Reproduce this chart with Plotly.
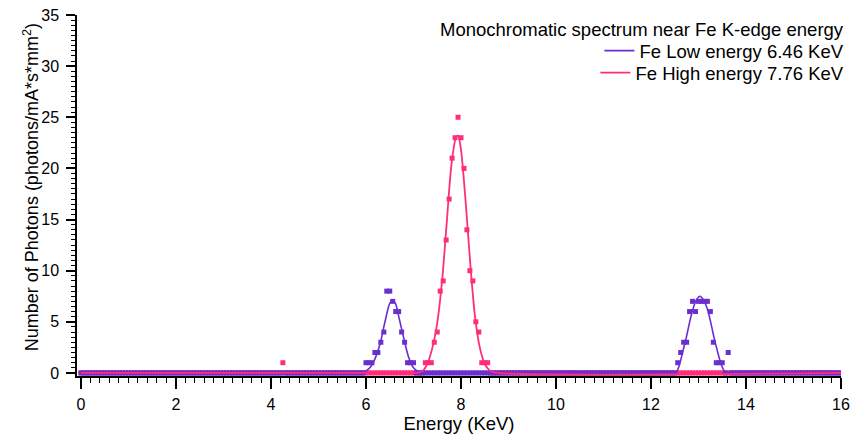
import plotly.graph_objects as go

# ---------------- data ----------------
BIN_WIDTH = 0.0625
N_BINS = 257
energies = [round(i * BIN_WIDTH, 4) for i in range(N_BINS)]  # 0 .. 16 KeV

# Fe low energy (6.46 KeV) measured spectrum, non-zero bins
low_peak_energy = [6.0, 6.0625, 6.125, 6.1875, 6.25, 6.3125, 6.375, 6.4375, 6.5, 6.5625,
                   6.625, 6.6875, 6.75, 6.8125, 6.875, 6.9375, 7.0,
                   12.5625, 12.625, 12.6875, 12.75, 12.8125, 12.875, 12.9375, 13.0, 13.0625,
                   13.125, 13.1875, 13.25, 13.3125, 13.375, 13.4375, 13.5, 13.625]
low_peak_counts = [1, 1, 1, 2, 2, 3, 4, 8, 8, 7,
                   6, 6, 4, 3, 1, 1, 1,
                   1, 2, 3, 3, 6, 7, 6, 7, 7,
                   7, 7, 6, 3, 1, 1, 1, 2]

# Fe high energy (7.76 KeV) measured spectrum, non-zero bins
high_peak_energy = [4.25, 7.25, 7.3125, 7.375, 7.4375, 7.5, 7.5625, 7.625, 7.6875, 7.75,
                    7.8125, 7.875, 7.9375, 8.0, 8.0625, 8.125, 8.1875, 8.25, 8.3125, 8.375,
                    8.4375, 8.5, 8.5625]
high_peak_counts = [1, 1, 1, 1, 3, 4, 8, 9, 13, 17,
                    21, 23, 25, 23, 20, 14, 10, 9, 5, 4,
                    1, 1, 1]

# fitted curves
low_fit_energy = [0, 5.8, 5.9, 6.0, 6.1, 6.2, 6.3, 6.4, 6.5, 6.56, 6.62, 6.7, 6.8, 6.9, 7.0, 7.1, 7.2,
                  12.4, 12.5, 12.54, 12.6, 12.67, 12.74, 12.81, 12.88, 12.95, 13.03, 13.11, 13.19,
                  13.26, 13.33, 13.4, 13.47, 13.54, 13.6, 13.7, 16]
low_fit_counts = [0, 0, 0.05, 0.2, 0.6, 1.5, 2.9, 5.0, 6.8, 7.1, 6.8, 5.3, 3.3, 1.5, 0.5, 0.12, 0,
                  0, 0, 0.1, 0.8, 2.1, 3.4, 4.9, 6.2, 7.1, 7.5, 7.1, 6.2,
                  4.9, 3.4, 2.1, 0.95, 0.2, 0, 0, 0]

high_fit_energy = [0, 7.0, 7.1, 7.2, 7.3, 7.4, 7.5, 7.6, 7.7, 7.8, 7.9, 7.94, 8.0, 8.1, 8.2,
                   8.3, 8.4, 8.5, 8.6, 8.7, 16]
high_fit_counts = [0, 0, 0.03, 0.2, 1.0, 2.5, 4.9, 8.9, 14.7, 20.4, 23.1, 23.2, 21.8, 16.6, 10.4,
                   5.3, 2.4, 0.9, 0.25, 0.05, 0]

x_tick_values = [0, 2, 4, 6, 8, 10, 12, 14, 16]
y_tick_values = [0, 5, 10, 15, 20, 25, 30, 35]

legend_title = "Monochromatic spectrum near Fe K-edge energy"
low_name = "Fe Low energy 6.46 KeV"
high_name = "Fe High energy 7.76 KeV"
x_title = "Energy (KeV)"
y_title = "Number of Photons (photons/mA*s*mm<sup>2</sup>)"

# ---------------- build full spectra ----------------
low_lookup = dict(zip(low_peak_energy, low_peak_counts))
high_lookup = dict(zip(high_peak_energy, high_peak_counts))
low_counts = [low_lookup.get(e, 0) for e in energies]
high_counts = [high_lookup.get(e, 0) for e in energies]

PURPLE = "#6B2FCF"
PINK = "#FF2D7A"
FONT = "Arial, Liberation Sans, Helvetica, sans-serif"
LEG_SIZE = 18.5

fig = go.Figure()
fig.add_trace(go.Scatter(x=energies, y=high_counts, mode="markers",
                         marker=dict(symbol="square", size=5, color=PINK, line=dict(width=0)),
                         showlegend=False, hoverinfo="x+y"))
fig.add_trace(go.Scatter(x=energies, y=low_counts, mode="markers",
                         marker=dict(symbol="square", size=5, color=PURPLE, line=dict(width=0)),
                         showlegend=False, hoverinfo="x+y"))
fig.add_trace(go.Scatter(x=low_fit_energy, y=low_fit_counts, mode="lines",
                         line=dict(color=PURPLE, width=1.6, shape="spline", smoothing=0.8),
                         name=low_name, legend="legend"))
fig.add_trace(go.Scatter(x=high_fit_energy, y=high_fit_counts, mode="lines",
                         line=dict(color=PINK, width=1.8, shape="spline", smoothing=0.8),
                         name=high_name, legend="legend2"))

fig.update_layout(
    width=853, height=434,
    margin=dict(l=77, r=12, t=15, b=58, autoexpand=False),
    plot_bgcolor="white", paper_bgcolor="white",
    font=dict(family=FONT, size=16, color="black"),
    legend=dict(x=1.011, xanchor="right", y=0.900, yanchor="middle", bgcolor="rgba(0,0,0,0)",
                font=dict(size=LEG_SIZE), itemwidth=30, tracegroupgap=0),
    legend2=dict(x=1.011, xanchor="right", y=0.839, yanchor="middle", bgcolor="rgba(0,0,0,0)",
                 font=dict(size=LEG_SIZE), itemwidth=30, tracegroupgap=0),
    annotations=[
        dict(text=legend_title, xref="paper", yref="paper", x=1.0068, y=0.961,
             xanchor="right", yanchor="middle", showarrow=False,
             font=dict(size=LEG_SIZE, family=FONT)),
        dict(text=y_title, xref="paper", yref="paper", x=-0.0602, y=0.523,
             xanchor="center", yanchor="middle", textangle=-90, showarrow=False,
             font=dict(size=18, family=FONT)),
    ],
)

fig.update_xaxes(
    range=[-0.084, 16], tickvals=x_tick_values, ticktext=[str(v) for v in x_tick_values],
    showline=True, linecolor="black", linewidth=1.5, mirror=False, automargin=False,
    ticks="outside", ticklen=11, tickwidth=1.5, tickcolor="black", ticklabelstandoff=2,
    minor=dict(dtick=0.2, tick0=0, ticks="outside", ticklen=5, tickwidth=1, tickcolor="black"),
    showgrid=False, zeroline=False,
    title=dict(text=x_title, font=dict(size=18.5), standoff=0),
    tickfont=dict(size=16),
)
fig.update_yaxes(
    range=[-0.3, 35], tickvals=y_tick_values, ticktext=[str(v) for v in y_tick_values],
    showline=True, linecolor="black", linewidth=1.5, automargin=False,
    ticks="outside", ticklen=9, tickwidth=1.5, tickcolor="black", ticklabelstandoff=4,
    minor=dict(dtick=0.5, tick0=0, ticks="outside", ticklen=4, tickwidth=1, tickcolor="black"),
    showgrid=False, zeroline=False,
    tickfont=dict(size=16),
)

fig.write_html("out.html")
